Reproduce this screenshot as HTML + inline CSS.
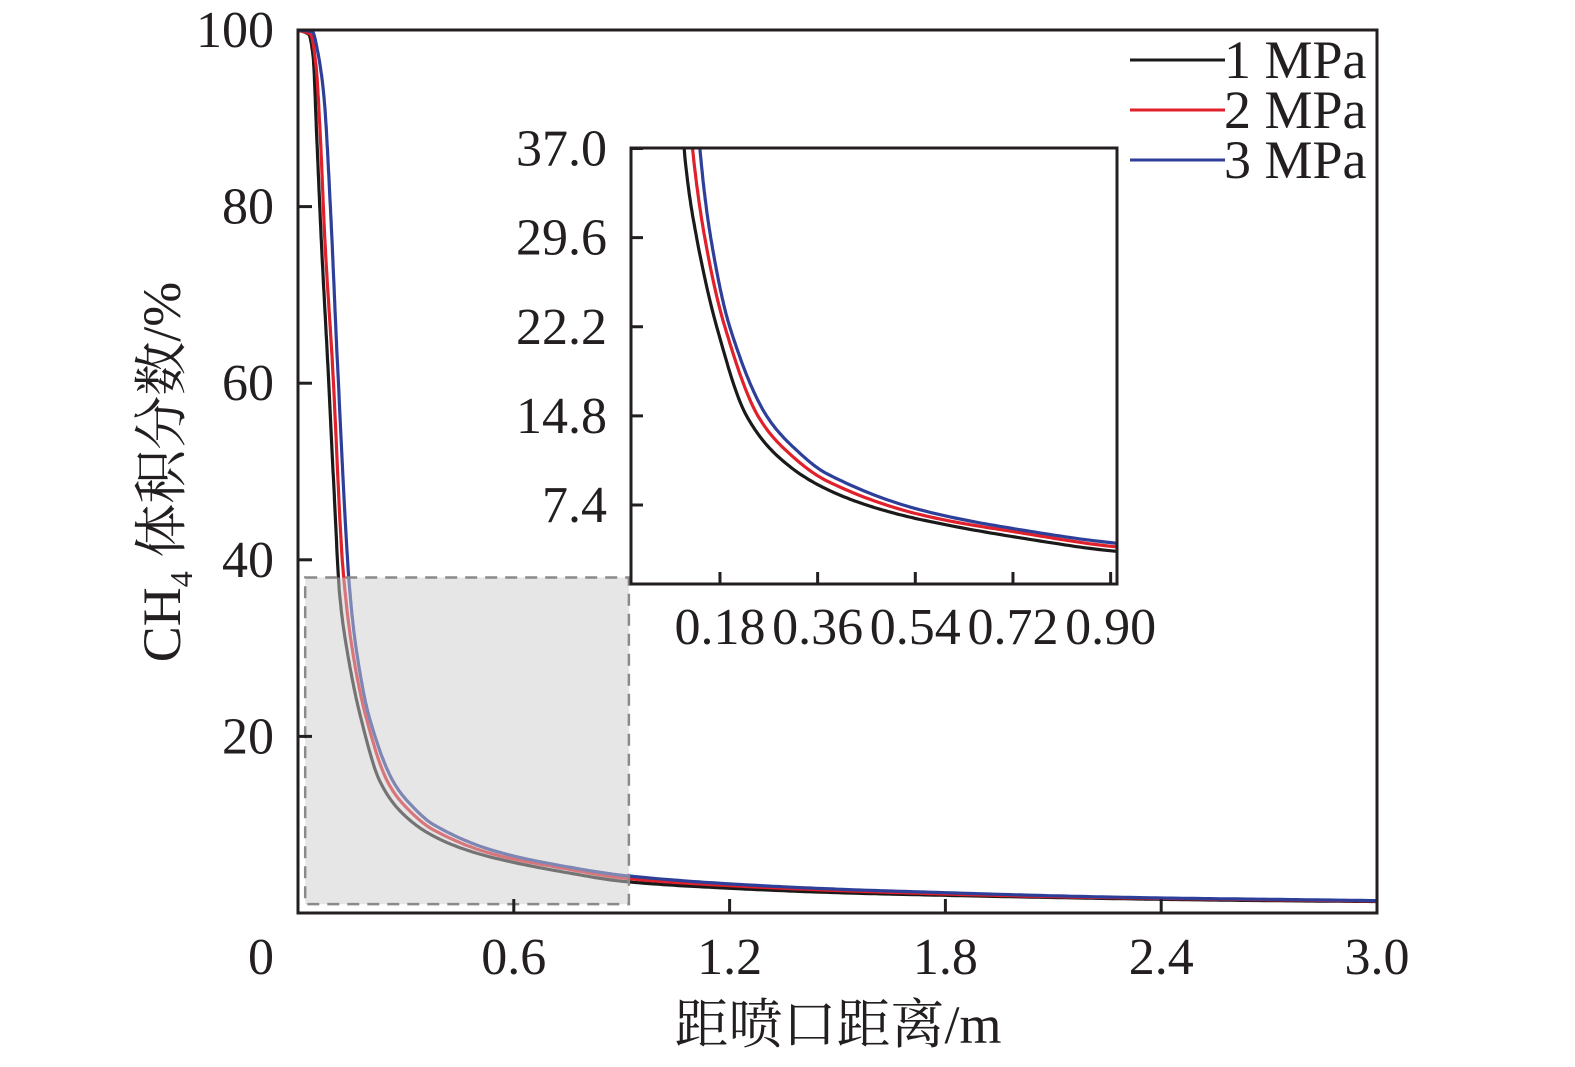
<!DOCTYPE html>
<html><head><meta charset="utf-8"><style>
html,body{margin:0;padding:0;background:#fff}
svg{display:block}
text{font-family:"Liberation Serif","Times New Roman","Noto Serif CJK SC",serif;fill:#231f20}
</style></head><body>
<svg id="chart" width="1575" height="1067" viewBox="0 0 1575 1067" xmlns="http://www.w3.org/2000/svg">
<defs><clipPath id="insetClip"><rect x="631" y="148" width="486" height="436"/></clipPath></defs>
<g id="main"></g>
</svg>
<script>
const seriesNames = ["1 MPa","2 MPa","3 MPa"];
const seriesColors = ["#1a1a1a","#e0202a","#2e3f9a"];
const xBlack = [0,0.03,0.042,0.052,0.065,0.083,0.100,0.116,0.137,0.174,0.229,0.29,0.364,0.45,0.549,0.733,0.917,1.2,1.5,1.8,2.1,2.4,2.7,3.0];
const yBlack = [100,99.5,97,88,76,62,48,36,29.6,22.2,14.8,11.3,9.0,7.4,6.2,4.68,3.53,2.8,2.3,2.0,1.75,1.55,1.4,1.3];
const xRed = [0,0.035,0.05,0.062,0.075,0.096,0.125,0.152,0.189,0.25,0.3,0.377,0.549,0.733,0.917,1.2,1.5,1.8,2.1,2.4,2.7,3.0];
const yRed = [100,99.5,96,88,76,62,39,29.6,22.2,14.8,12,9.4,6.6,5.1,3.9,3.1,2.55,2.15,1.85,1.65,1.5,1.35];
const xBlue = [0,0.04,0.055,0.072,0.09,0.11,0.143,0.163,0.198,0.266,0.32,0.377,0.549,0.733,0.917,1.2,1.5,1.8,2.1,2.4,2.7,3.0];
const yBlue = [100,99.8,97.5,92.5,80,62,37,29.6,22.2,14.8,12,10,7.0,5.35,4.2,3.3,2.7,2.3,1.95,1.7,1.55,1.4];
const xTicks = [0,0.6,1.2,1.8,2.4,3.0];
const xTickLabels = ["0","0.6","1.2","1.8","2.4","3.0"];
const yTicks = [20,40,60,80,100];
const yTickLabels = ["20","40","60","80","100"];
const insetXTicks = [0.18,0.36,0.54,0.72,0.90];
const insetXTickLabels = ["0.18","0.36","0.54","0.72","0.90"];
const insetYTicks = [7.4,14.8,22.2,29.6,37.0];
const insetYTickLabels = ["7.4","14.8","22.2","29.6","37.0"];
const zoomBox = [0.02,0.92,1,38];

const NS="http://www.w3.org/2000/svg";
const root=document.getElementById('main');
function mk(tag,attrs,parent){const e=document.createElementNS(NS,tag);for(const k in attrs)e.setAttribute(k,attrs[k]);(parent||root).appendChild(e);return e;}
const X=v=>298+v*(1377-298)/3.0;
const Y=v=>913-v*(913-30)/100;
const IX=v=>622.3+v*542.6;
const IY=v=>505-(v-7.4)*(505-148.5)/29.6;
const data=[[xBlack,yBlack],[xRed,yRed],[xBlue,yBlue]];
function path(xs,ys,fx,fy,xmin){
  const n=xs.length;const m=[];const d=[];
  for(let i=0;i<n-1;i++)d.push((ys[i+1]-ys[i])/(xs[i+1]-xs[i]));
  m[0]=d[0];m[n-1]=d[n-2];
  for(let i=1;i<n-1;i++){m[i]=(d[i-1]*d[i]<=0)?0:2/((1/d[i-1])+(1/d[i]));}
  let s="";
  for(let i=0;i<n-1;i++){const h=xs[i+1]-xs[i];
    for(let k=0;k<=20;k++){const t=k/20;const h00=2*t*t*t-3*t*t+1,h10=t*t*t-2*t*t+t,h01=-2*t*t*t+3*t*t,h11=t*t*t-t*t;
      const x=xs[i]+t*h;const y=h00*ys[i]+h10*h*m[i]+h01*ys[i+1]+h11*h*m[i+1];
      if(xmin!==undefined&&x<xmin)continue;
      s+=(s?"L":"M")+fx(x).toFixed(1)+","+fy(y).toFixed(1);}}
  return s;}
const cg=mk('g',{});


data.forEach((dd,i)=>{const p=mk('path',{d:path(dd[0],dd[1],X,Y),fill:'none',stroke:seriesColors[i],'stroke-width':3.2,'stroke-linejoin':'round'},cg);

});
const zr=mk('rect',{x:X(zoomBox[0]),y:Y(zoomBox[3]),width:X(zoomBox[1])-X(zoomBox[0]),height:Y(zoomBox[2])-Y(zoomBox[3]),fill:'rgba(205,205,205,0.5)',stroke:'#8a8a8a','stroke-width':2.5,'stroke-dasharray':'12,8'});


const fr=mk('rect',{x:298,y:30,width:1079,height:883,fill:'none',stroke:'#231f20','stroke-width':3});


xTicks.forEach((v,i)=>{if(v>0&&v<3){const t=mk('line',{x1:X(v),x2:X(v),y1:913,y2:899,stroke:'#231f20','stroke-width':3});

}
const l=mk('text',{x:X(v)-(v==0?37:0),y:974,'font-size':52,'text-anchor':'middle'});l.textContent=xTickLabels[i];

});
yTicks.forEach((v,i)=>{if(v<100){const t=mk('line',{x1:298,x2:312,y1:Y(v),y2:Y(v),stroke:'#231f20','stroke-width':3});

}
const l=mk('text',{x:274,y:Y(v)+17,'font-size':52,'text-anchor':'end'});l.textContent=yTickLabels[i];

});
const ig=mk('g',{});


mk('rect',{x:631,y:148,width:486,height:436,fill:'#fff'},ig);
const icg=mk('g',{'clip-path':'url(#insetClip)'},ig);
data.forEach((dd,i)=>{const p=mk('path',{d:path(dd[0],dd[1],IX,IY,0.09),fill:'none',stroke:seriesColors[i],'stroke-width':3.2},icg);

});
const ifr=mk('rect',{x:631,y:148,width:486,height:436,fill:'none',stroke:'#231f20','stroke-width':3},ig);


insetXTicks.forEach((v,i)=>{const t=mk('line',{x1:IX(v),x2:IX(v),y1:584,y2:572,stroke:'#231f20','stroke-width':3},ig);


const l=mk('text',{x:IX(v),y:644,'font-size':52,'text-anchor':'middle'},ig);l.textContent=insetXTickLabels[i];

});
insetYTicks.forEach((v,i)=>{const t=mk('line',{x1:631,x2:643,y1:IY(v),y2:IY(v),stroke:'#231f20','stroke-width':3},ig);


const l=mk('text',{x:607,y:IY(v)+17,'font-size':52,'text-anchor':'end'},ig);l.textContent=insetYTickLabels[i];

});
const lg=mk('g',{});


seriesNames.forEach((n,i)=>{const y=60+i*50;
const ln=mk('line',{x1:1130,x2:1225,y1:y,y2:y,stroke:seriesColors[i],'stroke-width':3},lg);


const t=mk('text',{x:1224,y:y+18,'font-size':54},lg);t.textContent=n;

});
const xt=mk('text',{x:838,y:1043,'font-size':54,'text-anchor':'middle'});xt.textContent="距喷口距离/m";


const yt=mk('text',{x:0,y:0,'font-size':54,'text-anchor':'middle',transform:'translate(180,472) rotate(-90)'});
yt.innerHTML='CH<tspan font-size="32" dy="12">4</tspan><tspan dy="-12"> 体积分数/%</tspan>';


</script>
</body></html>
